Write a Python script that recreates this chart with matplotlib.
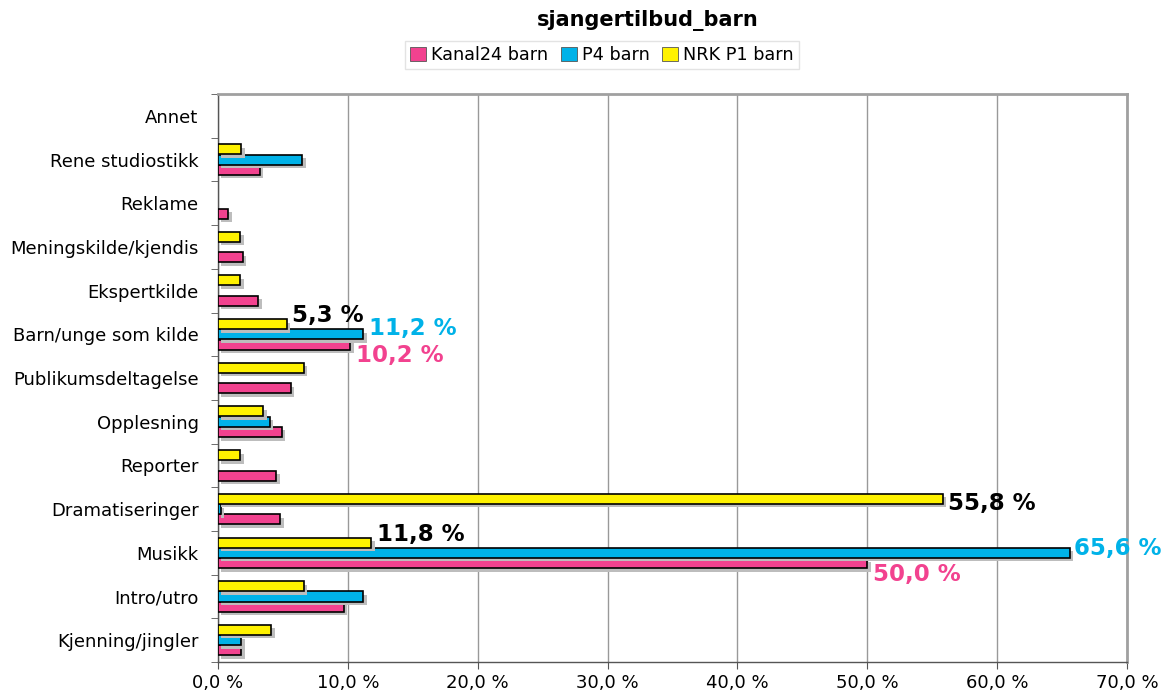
import matplotlib.pyplot as plt
import matplotlib.patheffects as pe
import numpy as np

categories = ['Kjenning/jingler', 'Intro/utro', 'Musikk', 'Dramatiseringer', 'Reporter',
              'Opplesning', 'Publikumsdeltagelse', 'Barn/unge som kilde', 'Ekspertkilde',
              'Meningskilde/kjendis', 'Reklame', 'Rene studiostikk', 'Annet']
kanal24 = [1.8, 9.7, 50.0, 4.8, 4.5, 4.9, 5.6, 10.2, 3.1, 1.9, 0.8, 3.2, 0.0]
p4      = [1.8, 11.2, 65.6, 0.2, 0.0, 4.0, 0.0, 11.2, 0.0, 0.0, 0.0, 6.5, 0.0]
nrk_p1  = [4.1, 6.6, 11.8, 55.8, 1.7, 3.5, 6.6, 5.3, 1.7, 1.7, 0.0, 1.8, 0.0]
xticks = [0, 10, 20, 30, 40, 50, 60, 70]

PINK, BLUE, YELLOW = '#F2428F', '#00B2E8', '#FFF200'

fig = plt.figure(figsize=(11.69, 6.97), dpi=100)
ax = fig.add_axes([0.1865, 0.0502, 0.7775, 0.8148])

y = np.arange(len(categories))
h = 0.23
shadow = [pe.SimplePatchShadow(offset=(2.5, -2.5), shadow_rgbFace='#BDBDBD', alpha=1), pe.Normal()]

series = [(kanal24, -0.235, PINK, 'Kanal24 barn'),
          (p4, 0.0, BLUE, 'P4 barn'),
          (nrk_p1, 0.235, YELLOW, 'NRK P1 barn')]
for vals, off, col, lab in series:
    vals = np.array(vals)
    mask = vals > 0
    bars = ax.barh(y[mask] + off, vals[mask], height=h, color=col, edgecolor='black',
                   linewidth=1.2, zorder=3)
    for b in bars:
        b.set_path_effects(shadow)

ax.set_xlim(0, 70)
ax.set_ylim(-0.5, len(categories) - 0.5)
ax.set_xticks(xticks)
ax.set_xticklabels([f'{v:.1f} %'.replace('.', ',') for v in xticks], fontsize=13)
ax.set_yticks(y)
ax.set_yticklabels(categories, fontsize=13)
ax.set_yticks(np.arange(len(categories) + 1) - 0.5, minor=True)
ax.tick_params(axis='y', which='major', length=0, pad=14)
ax.tick_params(axis='y', which='minor', length=5, color='#555555')
ax.tick_params(axis='x', length=5, color='#555555')
ax.grid(axis='x', color='#999999', linewidth=1, zorder=0)
for s in ['top', 'right']:
    ax.spines[s].set_color('#A0A0A0')
    ax.spines[s].set_linewidth(2)
for s in ['left', 'bottom']:
    ax.spines[s].set_color('#555555')
    ax.spines[s].set_linewidth(1)

# value labels
lab_kw = dict(fontsize=16.5, fontweight='bold', textcoords='offset points')
ax.annotate('5,3 %', (nrk_p1[7], 7 + 0.235), xytext=(4, 6), color='black', ha='left', va='center', **lab_kw)
ax.annotate('11,2 %', (p4[7], 7), xytext=(4, 4), color=BLUE, ha='left', va='center', **lab_kw)
ax.annotate('10,2 %', (kanal24[7], 7 - 0.235), xytext=(4, -8), color=PINK, ha='left', va='center', **lab_kw)
ax.annotate('55,8 %', (nrk_p1[3], 3 + 0.235), xytext=(4, -3), color='black', ha='left', va='center', **lab_kw)
ax.annotate('11,8 %', (nrk_p1[2], 2 + 0.235), xytext=(4, 6), color='black', ha='left', va='center', **lab_kw)
ax.annotate('65,6 %', (p4[2], 2), xytext=(3, 3), color=BLUE, ha='left', va='center', **lab_kw)
ax.annotate('50,0 %', (kanal24[2], 2 - 0.235), xytext=(4, -8), color=PINK, ha='left', va='center', **lab_kw)

fig.text(0.554, 0.97, 'sjangertilbud_barn', ha='center', va='center', fontsize=15, fontweight='bold')

handles = [plt.Rectangle((0, 0), 1, 1, facecolor=c, edgecolor='#555555', linewidth=0.6)
           for c in (PINK, BLUE, YELLOW)]
fig.legend(handles, ['Kanal24 barn', 'P4 barn', 'NRK P1 barn'], loc='center',
           bbox_to_anchor=(0.515, 0.921), ncol=3, fontsize=12.7, frameon=True,
           fancybox=False, edgecolor='#DDDDDD', handlelength=0.9, handleheight=0.9,
           handletextpad=0.3, columnspacing=0.7, borderpad=0.3)

fig.savefig('out.png', dpi=100)
